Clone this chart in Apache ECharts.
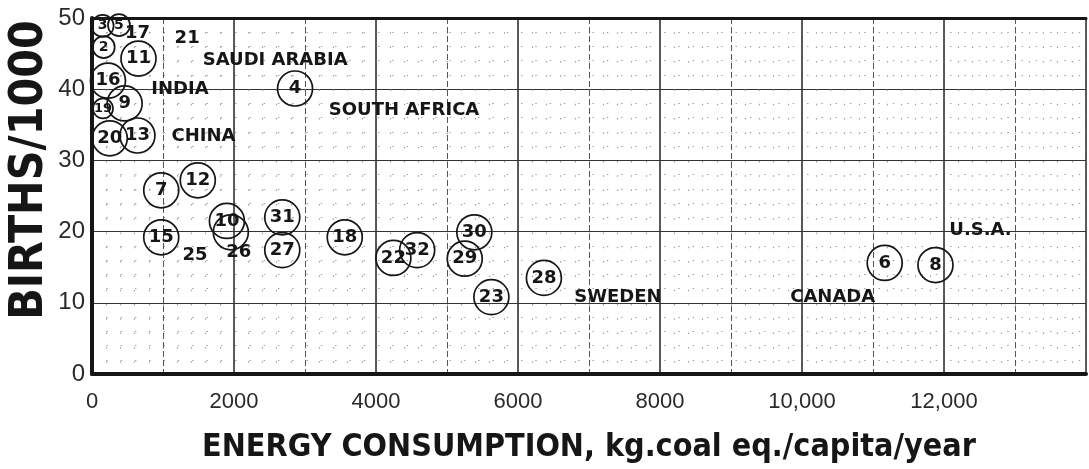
<!DOCTYPE html>
<html>
<head>
<meta charset="utf-8">
<script src="https://cdn.jsdelivr.net/npm/echarts@6/dist/echarts.min.js"></script>
<style>
html,body{margin:0;padding:0;background:#fff;}
#chart{width:1089px;height:469px;}
</style>
</head>
<body>
<div id="chart"></div>
<script>
// ---- data ----
// circled points: id, energy (kg coal eq./capita/year), births per 1000
const pointIds = ['3','5','2','11','16','9','19','20','13','4','7','12','10','26','15','31','27','18','22','32','30','29','23','28','6','8'];
const energy   = [150, 380, 165, 655, 225, 460, 155, 250, 640, 2860, 975, 1490, 1900, 1955, 975, 2680, 2680, 3560, 4245, 4580, 5385, 5250, 5625, 6365, 11165, 11880];
const births   = [48.9, 49.0, 45.9, 44.3, 41.2, 38.0, 37.3, 33.1, 33.5, 40.1, 25.8, 27.2, 21.5, 19.9, 19.2, 22.0, 17.4, 19.2, 16.3, 17.4, 19.9, 16.2, 10.8, 13.5, 15.6, 15.3];
// points drawn as a bare number (no circle)
const bareIds    = ['17', '21', '25'];
const bareEnergy = [640, 1340, 1450];
const bareBirths = [47.8, 47.1, 16.7];
// country annotations and the point they refer to
const countries  = ['SAUDI ARABIA', 'INDIA', 'CHINA', 'SOUTH AFRICA', 'SWEDEN', 'CANADA', 'U.S.A.'];
const countryRef = ['21', '16', '13', '4', '28', '6', '8'];
// axis tick labels
const xTicks = ['0', '2000', '4000', '6000', '8000', '10,000', '12,000', ''];
const yTicks = ['0', '10', '20', '30', '40', '50'];

// ---- styles ----
const INK = '#161616';
const smallIds = {'3': 22, '5': 22, '2': 22, '19': 20};
const smallFont = {'3': 14, '5': 14, '2': 14, '19': 13};
const labelOffsets = {'26': [8, 20]};
const countryOffsets = {
  'SAUDI ARABIA': [88, 22], 'INDIA': [72, 9], 'CHINA': [66, 1],
  'SOUTH AFRICA': [109, 22], 'SWEDEN': [74, 19], 'CANADA': [-52, 34], 'U.S.A.': [45, -35]
};

const pointData = pointIds.map((id, i) => {
  const lab = {};
  if (labelOffsets[id]) lab.offset = labelOffsets[id];
  if (smallFont[id]) lab.fontSize = smallFont[id];
  return {value: [energy[i], births[i]], id: id, symbolSize: smallIds[id] || 35, label: lab};
});
const bareData = bareIds.map((id, i) => ({value: [bareEnergy[i], bareBirths[i]], id: id}));
function lookup(id) {
  let k = pointIds.indexOf(id);
  if (k >= 0) return [energy[k], births[k]];
  k = bareIds.indexOf(id);
  return [bareEnergy[k], bareBirths[k]];
}
const countryData = countries.map((c, i) => ({
  value: lookup(countryRef[i]), name: c,
  label: {offset: countryOffsets[c]}
}));

const hand = "'DejaVu Sans', 'Liberation Sans', sans-serif";
const chart = echarts.init(document.getElementById('chart'), null, {renderer: 'canvas'});
chart.setOption({
  backgroundColor: '#ffffff',
  animation: false,
  grid: {left: 92, top: 18, width: 1003, height: 357, containLabel: false},
  xAxis: [{
    type: 'value', min: 0, max: 14000, interval: 2000,
    axisLine: {show: true, lineStyle: {color: INK, width: 4}},
    axisTick: {show: false},
    axisLabel: {color: '#2a2a2a', fontSize: 22, fontFamily: "'Liberation Sans', sans-serif", margin: 17,
      formatter: (v) => xTicks[Math.round(v / 2000)]},
    splitLine: {show: true, lineStyle: {color: '#333', width: 1.6}},
    minorTick: {show: false, splitNumber: 10},
    minorSplitLine: {show: true, lineStyle: {color: '#a0a0a0', width: 1.2, type: [1.5, 12.8]}},
    name: 'ENERGY CONSUMPTION, kg.coal eq./capita/year',
    nameLocation: 'middle', nameGap: 58,
    nameTextStyle: {color: INK, fontSize: 32, fontWeight: 'bold', fontFamily: "'DejaVu Sans Condensed', 'Liberation Sans Narrow', sans-serif"}
  }, {
    type: 'value', min: 0, max: 14000, interval: 1000, position: 'bottom',
    axisLine: {show: false}, axisTick: {show: false}, axisLabel: {show: false},
    splitLine: {show: true, lineStyle: {color: '#555', width: 1, type: [6, 3]}}
  }, {
    type: 'value', min: 0, max: 14000, interval: 2000, position: 'top',
    axisLine: {show: true, onZero: false, lineStyle: {color: INK, width: 3}},
    axisTick: {show: false}, axisLabel: {show: false}, splitLine: {show: false}
  }],
  yAxis: [{
    type: 'value', min: 0, max: 50, interval: 10,
    axisLine: {show: true, lineStyle: {color: INK, width: 4}},
    axisTick: {show: false},
    axisLabel: {color: '#2a2a2a', fontSize: 24, fontFamily: "'Liberation Sans', sans-serif", margin: 7,
      formatter: (v) => yTicks[Math.round(v / 10)]},
    splitLine: {show: true, lineStyle: {color: '#333', width: 1.2}},
    minorTick: {show: false, splitNumber: 5},
    minorSplitLine: {show: true, lineStyle: {color: '#a0a0a0', width: 1.2, type: [1.5, 12.8]}}
  }],
  graphic: [{
    type: 'text', rotation: Math.PI / 2, x: 30, y: 170,
    style: {text: 'BIRTHS/1000', fill: INK, font: "bold 46px 'DejaVu Sans Condensed', 'DejaVu Sans', sans-serif",
      textAlign: 'center', textVerticalAlign: 'middle'}
  }],
  series: [{
    type: 'scatter', xAxisIndex: 0, yAxisIndex: 0,
    data: pointData,
    symbol: 'circle',
    itemStyle: {color: 'rgba(255,255,255,0)', borderColor: INK, borderWidth: 1.7, opacity: 1},
    label: {show: true, position: 'inside', color: INK, fontSize: 18, fontWeight: 'bold', fontFamily: hand,
      formatter: (p) => p.data.id},
    emphasis: {disabled: true}
  }, {
    type: 'scatter', xAxisIndex: 0, yAxisIndex: 0,
    data: bareData, symbolSize: 0,
    itemStyle: {opacity: 1},
    label: {show: true, position: 'inside', color: INK, fontSize: 18, fontWeight: 'bold', fontFamily: hand,
      formatter: (p) => p.data.id},
    emphasis: {disabled: true}
  }, {
    type: 'scatter', xAxisIndex: 0, yAxisIndex: 0,
    data: countryData, symbolSize: 0,
    itemStyle: {opacity: 1},
    label: {show: true, position: 'inside', color: INK, fontSize: 18, fontWeight: 'bold', fontFamily: hand,
      formatter: (p) => p.data.name},
    emphasis: {disabled: true}
  }]
});
</script>
</body>
</html>
